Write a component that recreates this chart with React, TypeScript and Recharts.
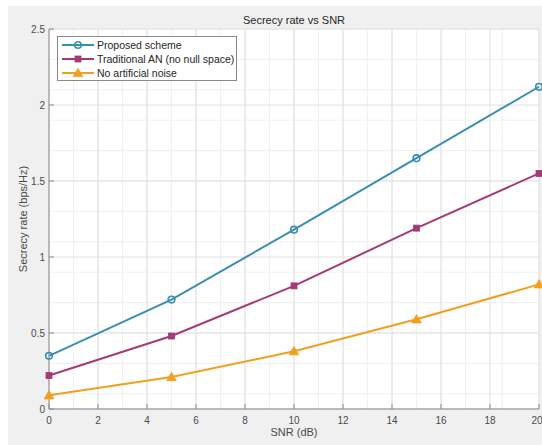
import React from "react"
import { LineChart, Line, XAxis, YAxis, CartesianGrid, Legend } from "recharts"

const snrDb = [0, 5, 10, 15, 20]
const proposedScheme = [0.35, 0.72, 1.18, 1.65, 2.12]
const traditionalAn = [0.22, 0.48, 0.81, 1.19, 1.55]
const noArtificialNoise = [0.09, 0.21, 0.38, 0.59, 0.82]

const xTicks = [0, 2, 4, 6, 8, 10, 12, 14, 16, 18, 20]
const yTicks = [0, 0.5, 1, 1.5, 2, 2.5]
// minor grid: x every 0.5, y every 0.1
const xMinor = Array.from({ length: 41 }, (_, i) => i * 0.5)
const yMinor = Array.from({ length: 26 }, (_, i) => +(i * 0.1).toFixed(1))

const FONT = "'Liberation Sans', Arial, Helvetica, sans-serif"
const AXIS = "#8a8a8a"
const TEXT = "#4a4a4a"

type Shape = "circle" | "square" | "triangle"

const series: { key: string; name: string; color: string; shape: Shape }[] = [
  { key: "proposed", name: "Proposed scheme", color: "#3a8db3", shape: "circle" },
  { key: "traditional", name: "Traditional AN (no null space)", color: "#a53a76", shape: "square" },
  { key: "none", name: "No artificial noise", color: "#f0a01e", shape: "triangle" },
]

const data = snrDb.map((snr, i) => ({
  snr,
  proposed: proposedScheme[i],
  traditional: traditionalAn[i],
  none: noArtificialNoise[i],
}))

function Marker({ shape, cx, cy, color }: { shape: Shape; cx: number; cy: number; color: string }) {
  if (shape === "circle")
    return <circle cx={cx} cy={cy} r={3.3} fill="none" stroke={color} strokeWidth={1.6} />
  if (shape === "square")
    return <rect x={cx - 3} y={cy - 3} width={6} height={6} fill={color} stroke={color} strokeWidth={0.8} />
  return (
    <polygon
      points={`${cx},${cy - 4.8} ${cx - 4.8},${cy + 3.6} ${cx + 4.8},${cy + 3.6}`}
      fill={color}
      stroke={color}
      strokeWidth={0.8}
    />
  )
}

function LegendBox() {
  return (
    <div
      style={{
        width: 178,
        height: 43,
        background: "#fff",
        border: `1px solid ${AXIS}`,
        fontFamily: FONT,
        fontSize: 10.5,
        color: "#262626",
      }}
    >
      {series.map((s, i) => (
        <div key={s.key} style={{ position: "absolute", left: 4, top: 2 + i * 14, height: 14, display: "flex", alignItems: "center" }}>
          <svg width={34} height={14} style={{ display: "block" }}>
            <line x1={1} y1={7} x2={33} y2={7} stroke={s.color} strokeWidth={2} />
            <Marker shape={s.shape} cx={17} cy={7} color={s.color} />
          </svg>
          <span style={{ marginLeft: 2, whiteSpace: "nowrap" }}>{s.name}</span>
        </div>
      ))}
    </div>
  )
}

export default function App() {
  const tick = { fill: TEXT, fontSize: 10, fontFamily: FONT }
  return (
    <div style={{ position: "relative", width: 542, height: 445, background: "#fff", overflow: "hidden" }}>
      <style>{`body{margin:0;overflow:hidden}`}</style>
      <div style={{ position: "absolute", left: 8, top: 6, width: 534, height: 439, background: "#f0f0f0" }}>
        <div
          style={{
            position: "absolute",
            left: 41,
            width: 490,
            top: 7,
            textAlign: "center",
            fontFamily: FONT,
            fontSize: 11,
            color: "#262626",
            lineHeight: "14px",
          }}
        >
          Secrecy rate vs SNR
        </div>
        <LineChart width={534} height={439} data={data} margin={{ top: 23, right: 3, left: 0, bottom: 0 }}>
          <CartesianGrid
            horizontalValues={yMinor}
            verticalValues={xMinor}
            stroke="#f0f0f0"
            strokeWidth={1}
            fill="#fff"
          />
          <CartesianGrid horizontalValues={yTicks} verticalValues={xTicks} stroke="#e0e0e0" strokeWidth={1} />
          <XAxis
            dataKey="snr"
            type="number"
            domain={[0, 20]}
            ticks={xTicks}
            height={36}
            tick={tick}
            tickSize={-5}
            tickMargin={13}
            stroke={AXIS}
            label={{ value: "SNR (dB)", position: "insideBottom", offset: 9, fill: TEXT, fontSize: 11, fontFamily: FONT }}
          />
          <XAxis
            xAxisId="top"
            orientation="top"
            dataKey="snr"
            type="number"
            domain={[0, 20]}
            ticks={xTicks}
            height={0}
            tick={false}
            tickSize={-5}
            stroke={AXIS}
          />
          <YAxis
            type="number"
            domain={[0, 2.5]}
            ticks={yTicks}
            width={41}
            tick={tick}
            tickSize={-5}
            tickMargin={9}
            stroke={AXIS}
            label={{
              value: "Secrecy rate (bps/Hz)",
              angle: -90,
              position: "insideLeft",
              offset: 15,
              fill: TEXT,
              fontSize: 11,
              fontFamily: FONT,
              style: { textAnchor: "middle" },
            }}
          />
          <YAxis
            yAxisId="right"
            orientation="right"
            type="number"
            domain={[0, 2.5]}
            ticks={yTicks}
            width={0}
            tick={false}
            tickSize={-5}
            stroke={AXIS}
          />
          <Legend
            layout="vertical"
            verticalAlign="middle"
            align="center"
            wrapperStyle={{ left: 49, top: 30, width: 180, height: 45 }}
            content={() => <LegendBox />}
          />
          {series.map((s) => (
            <Line
              key={s.key}
              dataKey={s.key}
              name={s.name}
              type="linear"
              stroke={s.color}
              strokeWidth={2}
              isAnimationActive={false}
              dot={(p: any) => <Marker key={`${s.key}-${p.index}`} shape={s.shape} cx={p.cx} cy={p.cy} color={s.color} />}
              activeDot={false}
            />
          ))}
        </LineChart>
      </div>
    </div>
  )
}
